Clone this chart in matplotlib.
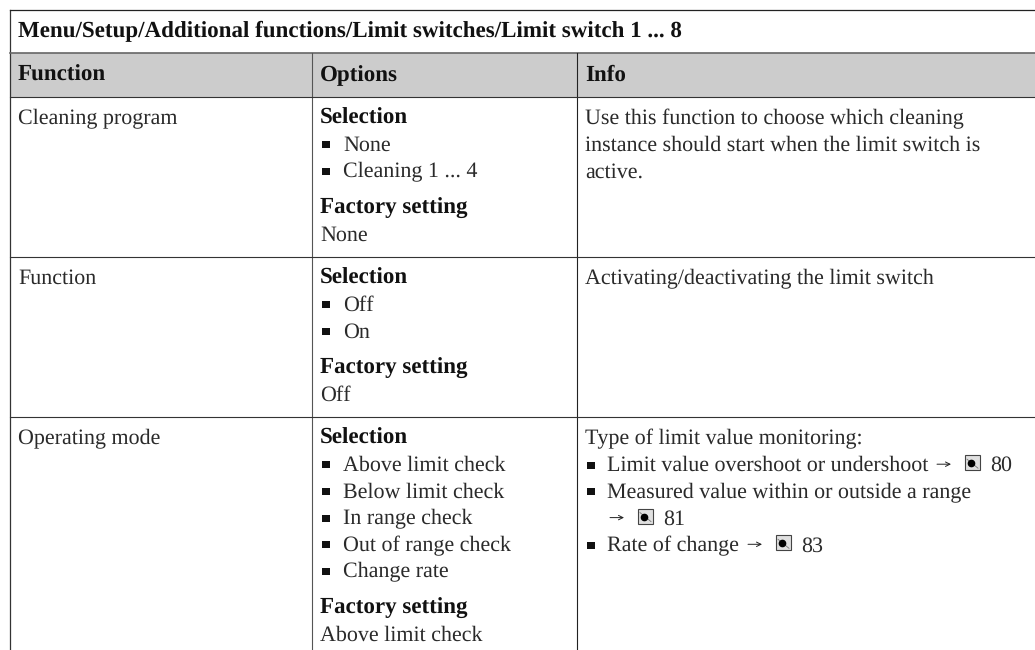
import matplotlib
matplotlib.use("Agg")
import matplotlib.pyplot as plt
from matplotlib.patches import Rectangle

plt.rcParams["text.hinting"] = "no_hinting"
plt.rcParams["text.hinting_factor"] = 1

title = "Menu/Setup/Additional functions/Limit switches/Limit switch 1 ... 8"
headers = ["Function", "Options", "Info"]
functions = ["Cleaning program", "Function", "Operating mode"]
options = [
    ["None", "Cleaning 1 ... 4"],
    ["Off", "On"],
    ["Above limit check", "Below limit check", "In range check", "Out of range check", "Change rate"],
]
defaults = ["None", "Off", "Above limit check"]
info_0 = ["Use this function to choose which cleaning",
          "instance should start when the limit switch is",
          "active."]
info_1 = ["Activating/deactivating the limit switch"]
info_2_head = "Type of limit value monitoring:"
info_2 = [("Limit value overshoot or undershoot", "80", True),
          ("Measured value within or outside a range", None, True),
          ("", "81", False),
          ("Rate of change", "83", True)]

W, H = 1035, 650
FS = 15.7
FSB = 16.4
LH = 26.7
FONT = "Liberation Serif"
fig = plt.figure(figsize=(W / 100, H / 100), dpi=100)
ax = fig.add_axes([0, 0, 1, 1])
ax.set_xlim(0, W)
ax.set_ylim(H, 0)
ax.axis("off")

L, R, TOP = 9.5, 1035, 9.5
HEAD_T, HEAD_B = 52.5, 96.5
C1, C2 = 311.5, 576.5
ROWS = [96.5, 256.5, 416.5]
BOTTOM = 650
LC = "#333333"


def T(x, y, s, bold=False):
    ax.text(x, y, s, family=FONT, fontsize=FSB if bold else FS, color="#111111" if bold else "#2a2a2a",
            fontweight="bold" if bold else "normal", va="baseline", ha="left")


def bullet(x, y):
    ax.add_patch(Rectangle((x, y - 9.5), 7.5, 7, fc="#111111", ec="none"))


def ref(x, y, num):
    ax.annotate("", xy=(x + 14, y - 7), xytext=(x, y - 7),
                arrowprops=dict(arrowstyle="->", lw=0.7, color="#222222", mutation_scale=8, shrinkA=0, shrinkB=0))
    bx = x + 28
    ax.add_patch(Rectangle((bx, y - 16), 15, 15, fc="#e0e0e0", ec="#444444", lw=0.8))
    ax.plot([bx + 2, bx + 13], [y - 12, y - 3], color="#777777", lw=0.6)
    ax.plot([bx + 5.5], [y - 8], "o", ms=4.5, color="black")
    T(bx + 25, y, num)


ax.add_patch(Rectangle((L, HEAD_T), R - L, HEAD_B - HEAD_T, fc="#cccccc", ec="none"))
ax.plot([L, L], [TOP, BOTTOM], color=LC, lw=0.9)
ax.plot([L, R], [TOP, TOP], color="#222222", lw=0.9)
ax.plot([L, R], [HEAD_T, HEAD_T], color="#666666", lw=1.2)
ax.plot([C1, C1], [HEAD_T, BOTTOM], color="#555555", lw=0.8)
ax.plot([C2, C2], [HEAD_T, BOTTOM], color="#222222", lw=0.8)
for r in ROWS:
    ax.plot([L, R], [r, r], color=LC, lw=0.8)

T(18, 37, title, bold=True)
for x, h in zip((18, 320, 585), headers):
    T(x, 81, h, bold=True)

for r, fn, opts, d in zip(ROWS, functions, options, defaults):
    y = r + 27.5
    T(18, y, fn)
    T(320, y, "Selection", bold=True)
    for k, o in enumerate(opts):
        yy = y + LH * (k + 1)
        bullet(322, yy)
        T(343, yy, o)
    yy = y + LH * len(opts) + 36.5
    T(320, yy, "Factory setting", bold=True)
    T(320, yy + LH, d)

y0 = ROWS[0] + 27.5
for k, s in enumerate(info_0):
    T(585, y0 + LH * k, s)
T(585, ROWS[1] + 27.5, info_1[0])

y2 = ROWS[2] + 28
T(585, y2, info_2_head)
ends = [937, None, 610, 748]
for k, (s, num, b) in enumerate(info_2):
    yy = y2 + LH * (k + 1)
    if b:
        bullet(587, yy)
    if s:
        T(607, yy, s)
    if num:
        ref(ends[k], yy, num)

fig.savefig("out.png", dpi=100)
